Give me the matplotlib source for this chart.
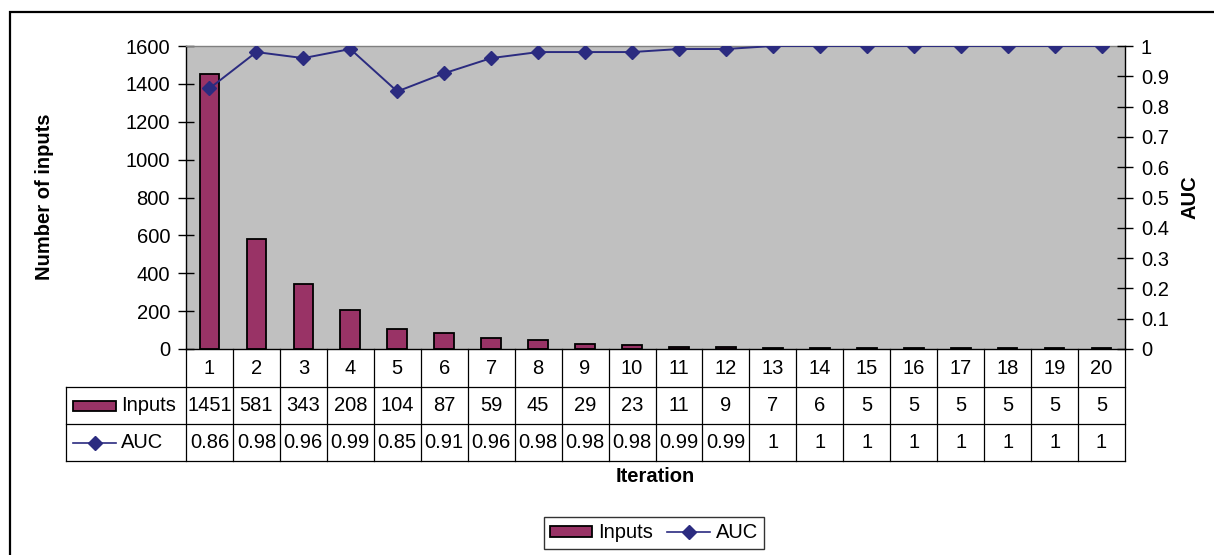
import matplotlib
matplotlib.use("Agg")
import matplotlib.pyplot as plt
from matplotlib.patches import Rectangle
from matplotlib.lines import Line2D
import matplotlib.transforms as mtransforms

plt.rcParams['font.family'] = ['Liberation Sans', 'DejaVu Sans']

iterations = list(range(1, 21))
inputs = [1451, 581, 343, 208, 104, 87, 59, 45, 29, 23, 11, 9, 7, 6, 5, 5, 5, 5, 5, 5]
auc = [0.86, 0.98, 0.96, 0.99, 0.85, 0.91, 0.96, 0.98, 0.98, 0.98, 0.99, 0.99,
       1, 1, 1, 1, 1, 1, 1, 1]
left_ticks = list(range(0, 1601, 200))
right_ticks = [i / 10 for i in range(0, 11)]

BAR_COLOR = '#993366'
LINE_COLOR = '#2B2B80'
FS = 14.5
FSB = 14.5

W, H = 1214, 555
fig = plt.figure(figsize=(W / 100, H / 100), dpi=100)

# outer chart frame (runs off the right and bottom edges)
fig.patches.append(Rectangle((10 / W, -0.2), 1.5, 1.2 - 12 / H, transform=fig.transFigure,
                             fill=False, edgecolor='black', linewidth=1.6))

ax = fig.add_axes([186 / W, 1 - 349 / H, 939 / W, 303 / H])
ax.set_facecolor('#C0C0C0')
ax.bar(iterations, inputs, width=0.42, color=BAR_COLOR, edgecolor='black', linewidth=1.3, zorder=2)
ax.set_xlim(0.5, 20.5)
ax.set_ylim(0, 1600)
ax.set_yticks(left_ticks)
ax.set_yticklabels([str(v) for v in left_ticks], fontsize=FS)
ax.set_xticks([])
ax.tick_params(axis='y', direction='inout', length=11, width=1, pad=6)
ax.spines['top'].set_color('#808080')
ax.spines['top'].set_linewidth(1)
for s in ('left', 'bottom', 'right'):
    ax.spines[s].set_color('black')
    ax.spines[s].set_linewidth(1)

ax2 = ax.twinx()
ax2.plot(iterations, auc, color=LINE_COLOR, linewidth=1.4, marker='D', markersize=7,
         markerfacecolor=LINE_COLOR, markeredgecolor=LINE_COLOR, zorder=3)
ax2.set_ylim(0, 1)
ax2.set_yticks(right_ticks)
ax2.set_yticklabels([f'{v:g}' for v in right_ticks], fontsize=FS)
ax2.tick_params(axis='y', direction='inout', length=11, width=1, pad=6)
for s in ax2.spines.values():
    s.set_visible(False)

fig.text(45 / W, 1 - 197 / H, 'Number of inputs', rotation=90, ha='center', va='center',
         fontsize=FSB, fontweight='bold')
fig.text(1190 / W, 1 - 197 / H, 'AUC', rotation=90, ha='center', va='center',
         fontsize=FSB, fontweight='bold')

# data table underneath the plot
blend = mtransforms.blended_transform_factory(ax.transData, ax.transAxes)
rows_px = [349, 387, 424, 461]
ry = [(349 - p) / 303 for p in rows_px]
left_col = (66 - 186) / 939
lk = dict(color='black', linewidth=0.9, clip_on=False)

for i in range(len(iterations) + 1):
    ax.plot([0.5 + i, 0.5 + i], [ry[0], ry[3]], transform=blend, **lk)
for y in ry[1:]:
    ax.plot([left_col, 1], [y, y], transform=ax.transAxes, **lk)
ax.plot([left_col, left_col], [ry[1], ry[3]], transform=ax.transAxes, **lk)

centers = [(ry[k] + ry[k + 1]) / 2 for k in range(3)]
for x, n, v, a in zip(iterations, iterations, inputs, auc):
    ax.text(x, centers[0], str(n), transform=blend, ha='center', va='center', fontsize=FS)
    ax.text(x, centers[1], str(v), transform=blend, ha='center', va='center', fontsize=FS)
    ax.text(x, centers[2], f'{a:g}', transform=blend, ha='center', va='center', fontsize=FS)

# legend keys inside the table
kx0, kx1 = (73 - 186) / 939, (116 - 186) / 939
kh = 10 / 303
ax.add_patch(Rectangle((kx0, centers[1] - kh / 2), kx1 - kx0, kh, transform=ax.transAxes,
                       facecolor=BAR_COLOR, edgecolor='black', linewidth=1.3, clip_on=False))
ax.text((121 - 186) / 939, centers[1], 'Inputs', transform=ax.transAxes, ha='left', va='center', fontsize=FS)
ax.add_line(Line2D([kx0, kx1], [centers[2], centers[2]], transform=ax.transAxes, color=LINE_COLOR,
                   linewidth=1.2, clip_on=False))
ax.add_line(Line2D([(kx0 + kx1) / 2], [centers[2]], transform=ax.transAxes, marker='D', markersize=7,
                   color=LINE_COLOR, linestyle='none', clip_on=False))
ax.text((121 - 186) / 939, centers[2], 'AUC', transform=ax.transAxes, ha='left', va='center', fontsize=FS)

fig.text(655 / W, 1 - 477 / H, 'Iteration', ha='center', va='center', fontsize=FSB, fontweight='bold')

handles = [Rectangle((0, 0), 1, 1, facecolor=BAR_COLOR, edgecolor='black', linewidth=1.3),
           Line2D([], [], color=LINE_COLOR, linewidth=1.2, marker='D', markersize=7)]
leg = fig.legend(handles, ['Inputs', 'AUC'], loc='center', bbox_to_anchor=(654 / W, 1 - 533 / H),
                 ncol=2, fontsize=FS, frameon=True, fancybox=False, handlelength=2.1,
                 handleheight=0.5, handletextpad=0.3, columnspacing=0.7, borderpad=0.3)
leg.get_frame().set_edgecolor('black')
leg.get_frame().set_linewidth(1)

fig.savefig('out.png', dpi=100)
